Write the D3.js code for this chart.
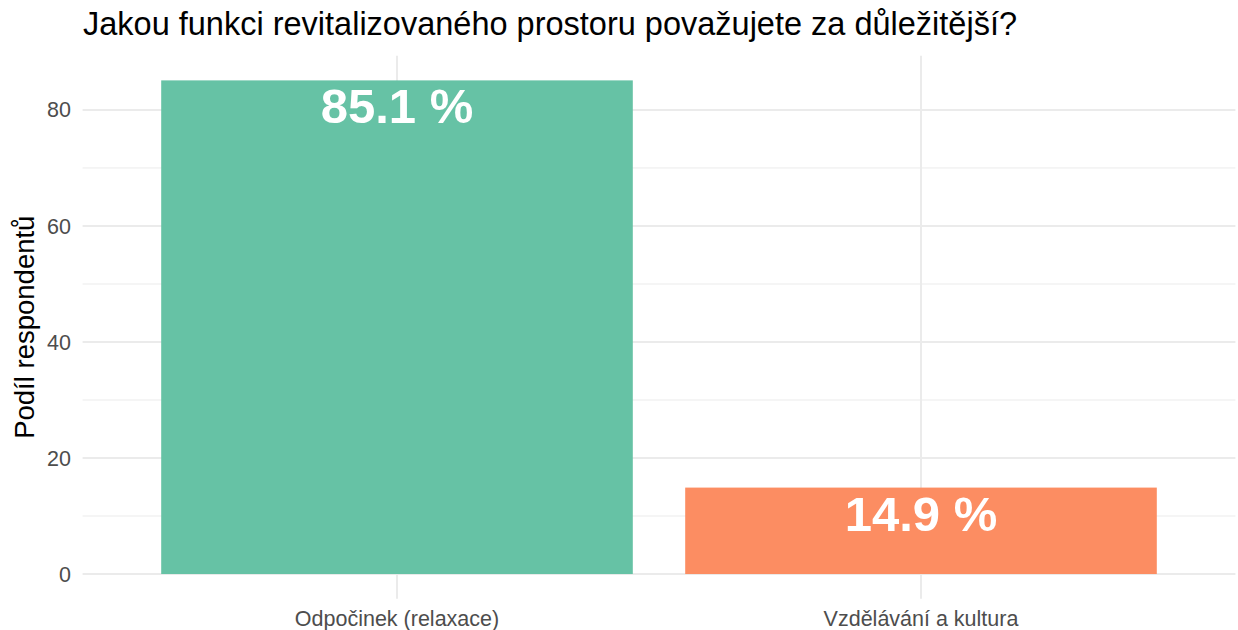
<!DOCTYPE html>
<head>
    <style>
        body { margin: 0; background: #fff; }
        svg { font-family: "Liberation Sans", Arial, sans-serif; }
        .grid-major { stroke: #ebebeb; stroke-width: 2px; }
        .grid-minor { stroke: #ebebeb; stroke-width: 1px; }
        .tick-label { fill: #4d4d4d; font-size: 21.5px; }
    </style>
</head>
<body>
    <script src="https://d3js.org/d3.v7.min.js"></script>
    <script>
        var categories = ['Odpočinek (relaxace)', 'Vzdělávání a kultura'];
        var shares = [85.1, 14.9];
        var labels = ['85.1 %', '14.9 %'];
        var colors = ['#66C2A5', '#FC8D62'];
        var major_ticks = [0, 20, 40, 60, 80];
        var minor_ticks = [10, 30, 50, 70];

        var title = 'Jakou funkci revitalizovaného prostoru považujete za důležitější?';
        var y_title = 'Podíl respondentů';

        var dim = {'w': 1238, 'h': 630,
                   panel: {'left': 82.6, 'right': 1235.4,
                           'top': 55.7, 'bottom': 598.7}};

        var svg = d3.select('body')
                    .append('svg')
                    .attr('width', dim.w)
                    .attr('height', dim.h);

        // ggplot style: discrete axis expanded by 0.6 on each side
        var x_scale = d3.scaleLinear()
                        .domain([0.4, 2.6])
                        .range([dim.panel.left, dim.panel.right]);
        var bar_w = x_scale(1.45) - x_scale(0.55);

        var ymax = d3.max(shares);
        var y_scale = d3.scaleLinear()
                        .domain([-0.05 * ymax, 1.05 * ymax])
                        .range([dim.panel.bottom, dim.panel.top]);

        var g = svg.append('g');

        g.selectAll('.grid-minor')
         .data(minor_ticks)
         .enter()
         .append('line')
         .attr('class', 'grid-minor')
         .attr('x1', dim.panel.left)
         .attr('x2', dim.panel.right)
         .attr('y1', d => y_scale(d))
         .attr('y2', d => y_scale(d));

        g.selectAll('.grid-major')
         .data(major_ticks)
         .enter()
         .append('line')
         .attr('class', 'grid-major')
         .attr('x1', dim.panel.left)
         .attr('x2', dim.panel.right)
         .attr('y1', d => y_scale(d))
         .attr('y2', d => y_scale(d));

        g.selectAll('.grid-x')
         .data(categories)
         .enter()
         .append('line')
         .attr('class', 'grid-major')
         .attr('x1', (d, i) => x_scale(i + 1))
         .attr('x2', (d, i) => x_scale(i + 1))
         .attr('y1', dim.panel.top)
         .attr('y2', dim.panel.bottom);

        g.selectAll('rect')
         .data(shares)
         .enter()
         .append('rect')
         .attr('x', (d, i) => x_scale(i + 1) - bar_w / 2)
         .attr('width', bar_w)
         .attr('y', d => y_scale(d))
         .attr('height', d => y_scale(0) - y_scale(d))
         .attr('fill', (d, i) => colors[i]);

        g.selectAll('.bar-label')
         .data(shares)
         .enter()
         .append('text')
         .attr('class', 'bar-label')
         .attr('x', (d, i) => x_scale(i + 1))
         .attr('y', d => y_scale(d) + 43)
         .attr('text-anchor', 'middle')
         .attr('fill', '#fff')
         .attr('font-weight', 'bold')
         .attr('font-size', '49px')
         .text((d, i) => labels[i]);

        // y tick labels
        g.selectAll('.y-tick')
         .data(major_ticks)
         .enter()
         .append('text')
         .attr('class', 'tick-label')
         .attr('x', 71)
         .attr('y', d => y_scale(d))
         .attr('dy', '0.35em')
         .attr('text-anchor', 'end')
         .text(d => d);

        // x tick labels
        g.selectAll('.x-tick')
         .data(categories)
         .enter()
         .append('text')
         .attr('class', 'tick-label')
         .attr('x', (d, i) => x_scale(i + 1))
         .attr('y', 626)
         .attr('text-anchor', 'middle')
         .text(d => d);

        svg.append('text')
           .attr('transform', 'translate(34,' + ((dim.panel.top + dim.panel.bottom) / 2) + ') rotate(-90)')
           .attr('text-anchor', 'middle')
           .attr('font-size', '27.5px')
           .attr('fill', '#000')
           .text(y_title);

        svg.append('text')
           .attr('x', 83)
           .attr('y', 35)
           .attr('font-size', '32.5px')
           .attr('fill', '#000')
           .text(title);
    </script>
</body>
